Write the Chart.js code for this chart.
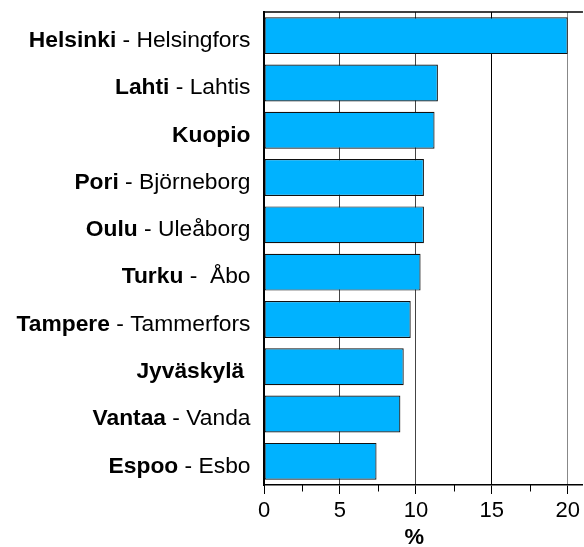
<!DOCTYPE html>
<html>
<head>
<meta charset="utf-8">
<script src="https://cdn.jsdelivr.net/npm/chart.js@4/dist/chart.umd.min.js"></script>
<style>
  html, body { margin: 0; padding: 0; background: #fff; }
  #wrap { width: 584px; height: 547px; position: relative; }
</style>
</head>
<body>
<div id="wrap"><canvas id="chart"></canvas></div>
<script>
// Finnish name (bold) and Swedish name (regular)
const cities = ['Helsinki', 'Lahti', 'Kuopio', 'Pori', 'Oulu', 'Turku', 'Tampere', 'Jyväskylä', 'Vantaa', 'Espoo'];
const swedishNames = [' - Helsingfors', ' - Lahtis', '', ' - Björneborg', ' - Uleåborg', ' -  Åbo', ' - Tammerfors', ' ', ' - Vanda', ' - Esbo'];
const values = [20.0, 11.45, 11.23, 10.53, 10.53, 10.31, 9.66, 9.2, 8.98, 7.41];
const xTicks = [0, 5, 10, 15, 20];

const FONT = "'Liberation Sans', Arial, sans-serif";

// city names: bold part + regular part, placed from the category scale
const cityLabels = {
    id: 'cityLabels',
    afterDraw(chart) {
        const ctx = chart.ctx;
        const y = chart.scales.y;
        const right = chart.chartArea.left - 13.5;
        ctx.save();
        ctx.fillStyle = '#000';
        ctx.textBaseline = 'middle';
        ctx.textAlign = 'left';
        cities.forEach((c, i) => {
            const py = y.getPixelForTick(i) + 5;
            ctx.font = '22.8px ' + FONT;
            const w2 = ctx.measureText(swedishNames[i]).width;
            ctx.font = 'bold 22.8px ' + FONT;
            const w1 = ctx.measureText(c).width;
            const x0 = right - w1 - w2;
            ctx.fillText(c, x0, py);
            ctx.font = '22.8px ' + FONT;
            ctx.fillText(swedishNames[i], x0 + w1, py);
        });
        ctx.restore();
    }
};

// top frame line and minor ticks between the major ones
const frame = {
    id: 'frame',
    afterDraw(chart) {
        const ctx = chart.ctx;
        const a = chart.chartArea;
        const x = chart.scales.x;
        ctx.save();
        ctx.strokeStyle = '#000';
        ctx.lineWidth = 1.5;
        ctx.beginPath();
        ctx.moveTo(a.left, a.top);
        ctx.lineTo(a.right, a.top);
        ctx.stroke();
        ctx.lineWidth = 1;
        for (let i = 0; i < xTicks.length - 1; i++) {
            const px = Math.round(x.getPixelForValue((xTicks[i] + xTicks[i + 1]) / 2)) + 0.5;
            ctx.beginPath();
            ctx.moveTo(px, a.bottom);
            ctx.lineTo(px, a.bottom + 6.5);
            ctx.stroke();
        }
        ctx.restore();
    }
};

new Chart(document.getElementById('chart'), {
    type: 'bar',
    data: {
        labels: cities,
        datasets: [{
            data: values,
            backgroundColor: '#00b2ff',
            borderColor: '#111',
            borderWidth: 1.2,
            borderSkipped: false,
            categoryPercentage: 1,
            barPercentage: 0.78
        }]
    },
    options: {
        indexAxis: 'y',
        responsive: true,
        maintainAspectRatio: false,
        animation: false,
        layout: { padding: { left: 264, top: 12, right: 0, bottom: 0 } },
        plugins: { legend: { display: false }, tooltip: { enabled: false } },
        scales: {
            x: {
                type: 'linear',
                min: 0,
                max: 21,
                afterBuildTicks: (s) => { s.ticks = xTicks.map(v => ({ value: v })); },
                afterFit: (s) => { s.height = 62; },
                ticks: {
                    color: '#000',
                    padding: 4,
                    font: { family: FONT, size: 22 }
                },
                grid: {
                    tickLength: 9,
                    tickColor: '#000',
                    color: (c) => c.tick && c.tick.value === 15 ? '#000' : (c.tick && c.tick.value === 20 ? '#888' : '#444'),
                    lineWidth: 1
                },
                border: { display: true, color: '#000', width: 1.5 },
                title: {
                    display: true,
                    text: '%   ',
                    color: '#000',
                    padding: 0,
                    font: { family: FONT, size: 22, weight: 'bold', lineHeight: 0.8 }
                }
            },
            y: {
                afterFit: (s) => { s.width = 0; },
                ticks: { display: false },
                grid: { display: false },
                border: { display: true, color: '#000', width: 2 }
            }
        }
    },
    plugins: [cityLabels, frame]
});
</script>
</body>
</html>
